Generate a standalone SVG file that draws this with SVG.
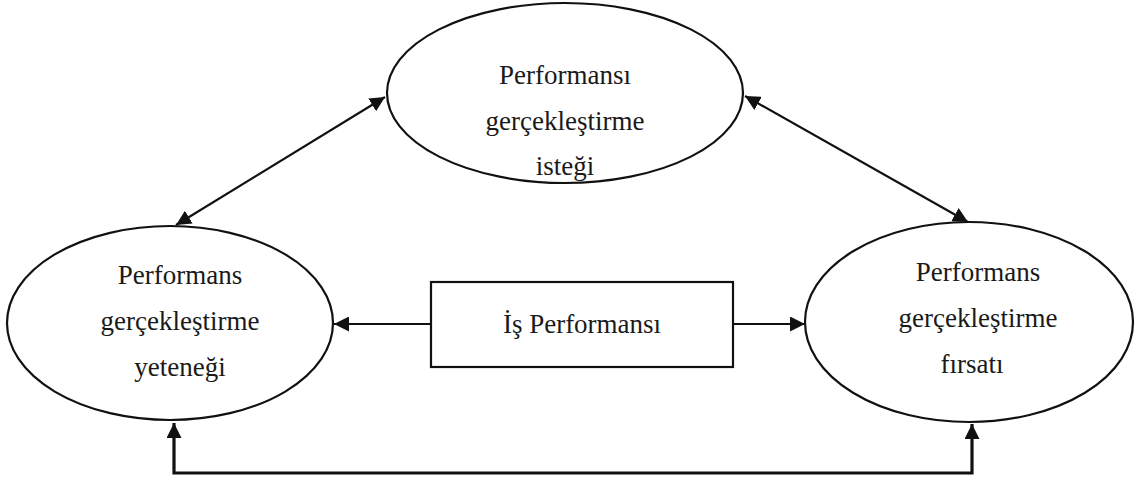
<svg xmlns="http://www.w3.org/2000/svg" width="1135" height="478" viewBox="0 0 1135 478">
  <style>
    .shape { fill: #ffffff; stroke: #111111; stroke-width: 2.2; }
    .label { font-family: 'Liberation Serif', 'DejaVu Serif', serif; font-size: 27px; fill: #1a1a1a; text-anchor: middle; }
    .link { fill: none; stroke: #111111; stroke-width: 2.2; }
    .thick { fill: none; stroke: #111111; stroke-width: 3.2; }
  </style>
  <defs>
    <marker id="arrowBig" viewBox="0 0 10 10" refX="10" refY="5" markerWidth="15" markerHeight="15" orient="auto-start-reverse" markerUnits="userSpaceOnUse">
      <path d="M0,0 L10,5 L0,10 z" fill="#111111"/>
    </marker>
  </defs>
  <rect width="1135" height="478" fill="#ffffff"/>

  <g id="connectors">
    <!-- desire <-> ability -->
    <line class="link" x1="385" y1="97" x2="176" y2="225" marker-start="url(#arrowBig)" marker-end="url(#arrowBig)"/>
    <!-- desire <-> opportunity -->
    <line class="link" x1="745" y1="96" x2="968" y2="222" marker-start="url(#arrowBig)" marker-end="url(#arrowBig)"/>
    <!-- job performance -> ability -->
    <line class="link" x1="431" y1="324" x2="334" y2="324" marker-end="url(#arrowBig)"/>
    <!-- job performance -> opportunity -->
    <line class="link" x1="733" y1="324" x2="805" y2="324" marker-end="url(#arrowBig)"/>
    <!-- ability <-> opportunity, routed underneath -->
    <polyline class="thick" points="174,423 174,473 972,473 972,424" marker-start="url(#arrowBig)" marker-end="url(#arrowBig)"/>
  </g>

  <g id="desire">
    <ellipse class="shape" cx="565" cy="93" rx="178" ry="90"/>
    <text class="label" x="565" y="84" font-family="Liberation Serif">Performansı</text>
    <text class="label" x="565" y="130" font-family="Liberation Serif">gerçekleştirme</text>
    <text class="label" x="565" y="175" font-family="Liberation Serif">isteği</text>
  </g>

  <g id="ability">
    <ellipse class="shape" cx="170" cy="323" rx="163" ry="97"/>
    <text class="label" x="180" y="284">Performans</text>
    <text class="label" x="180" y="330">gerçekleştirme</text>
    <text class="label" x="180" y="376">yeteneği</text>
  </g>

  <g id="opportunity">
    <ellipse class="shape" cx="969" cy="322" rx="164" ry="100"/>
    <text class="label" x="978" y="281">Performans</text>
    <text class="label" x="978" y="327">gerçekleştirme</text>
    <text class="label" x="972" y="373">fırsatı</text>
  </g>

  <g id="job-performance">
    <rect class="shape" x="431" y="282" width="302" height="85"/>
    <text class="label" x="582" y="333">İş Performansı</text>
  </g>
</svg>
